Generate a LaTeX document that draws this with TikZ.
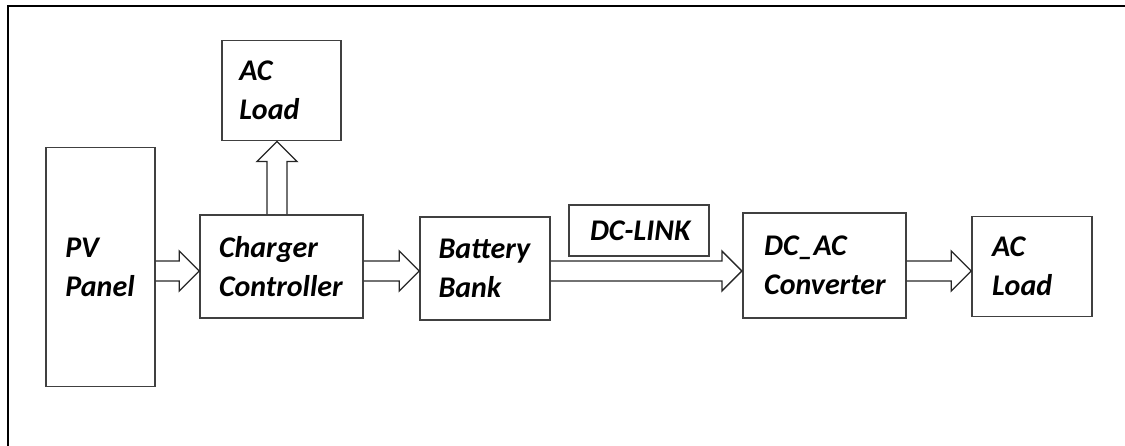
\documentclass[tikz,border=0pt]{standalone}
\usepackage{fontspec}
\setmainfont{Carlito}
\usetikzlibrary{calc}
\tikzset{
  blk/.style={draw=black!75, line width=1.6pt, align=left, inner sep=0pt,
    font=\fontsize{30}{39}\selectfont\bfseries\itshape},
  fatline/.style={draw=black!85, line width=1.3pt, line join=miter},
  frame/.style={draw=black, line width=2pt}
}
\newcommand{\fatarrow}[2]{%
  \coordinate (hb) at ($(#2)!20pt!(#1)$);
  \draw[fatline] ($(#1)!10pt!90:(#2)$) -- ($(hb)!10pt!-90:(#1)$) -- ($(hb)!20pt!-90:(#1)$) -- (#2)
    -- ($(hb)!20pt!90:(#1)$) -- ($(hb)!10pt!90:(#1)$) -- ($(#1)!10pt!-90:(#2)$);
}

\begin{document}
\begin{tikzpicture}[x=1pt,y=-1pt]
\useasboundingbox (0,0) rectangle (1125,446);
\draw[frame] (8,446) -- (8,6) -- (1125,6);

\node[blk, minimum width=109pt, minimum height=239pt, text width=70pt] (pv) at (100.3,267.2) {PV\\Panel};
\node[blk, minimum width=163pt, minimum height=103pt, text width=125pt] (cc) at (281.5,266.5) {Charger\\Controller};
\node[blk, minimum width=119pt, minimum height=100pt, text width=84pt] (loadT) at (281.3,90.7) {AC\\Load};
\node[blk, minimum width=130pt, minimum height=103pt, text width=93pt] (bb) at (485,268.3) {Battery\\Bank};
\node[blk, minimum width=140pt, minimum height=51pt, text width=98pt] (link) at (639,230.5) {\mbox{DC-LINK}};
\node[blk, minimum width=163pt, minimum height=105pt, text width=120pt] (conv) at (824.2,265.5) {DC\_AC\\Converter};
\node[blk, minimum width=120pt, minimum height=100pt, text width=80pt] (loadR) at (1032,266.7) {AC\\Load};

\coordinate (lvl) at (0,271);
\coordinate (up) at (277,0);
\coordinate (a1) at (pv.east |- lvl);
\coordinate (b1) at (cc.west |- lvl);
\coordinate (a2) at (cc.east |- lvl);
\coordinate (b2) at (bb.west |- lvl);
\coordinate (a3) at (bb.east |- lvl);
\coordinate (b3) at (conv.west |- lvl);
\coordinate (a4) at (conv.east |- lvl);
\coordinate (b4) at (loadR.west |- lvl);
\coordinate (a5) at (cc.north -| up);
\coordinate (b5) at (loadT.south -| up);

\fatarrow{a1}{b1}
\fatarrow{a2}{b2}
\fatarrow{a3}{b3}
\fatarrow{a4}{b4}
\fatarrow{a5}{b5}

\end{tikzpicture}
\end{document}
